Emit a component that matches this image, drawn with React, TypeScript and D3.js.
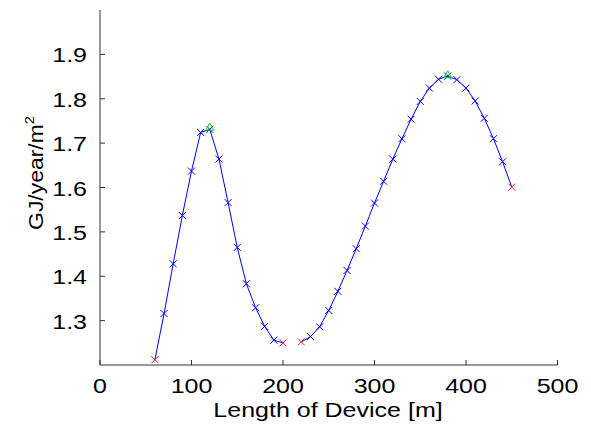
import React from "react";
import * as d3 from "d3";

const lengths1 = [60, 70, 80, 90, 100, 110, 120, 130, 140, 150, 160, 170, 180, 190, 200];
const values1 = [1.212, 1.316, 1.428, 1.537, 1.637, 1.724, 1.731, 1.664, 1.566, 1.465, 1.383, 1.329, 1.287, 1.256, 1.25];
const lengths2 = [220, 230, 240, 250, 260, 270, 280, 290, 300, 310, 320, 330, 340, 350, 360, 370, 380, 390, 400, 410, 420, 430, 440, 450];
const values2 = [1.252, 1.264, 1.286, 1.323, 1.366, 1.413, 1.462, 1.513, 1.565, 1.614, 1.664, 1.71, 1.754, 1.794, 1.824, 1.844, 1.851, 1.843, 1.824, 1.795, 1.756, 1.71, 1.658, 1.601];
const endpointX = [60, 200, 220, 450];
const endpointY = [1.212, 1.25, 1.252, 1.601];
const peakX = [120, 380];
const peakY = [1.735, 1.853];
const xTicks = [0, 100, 200, 300, 400, 500];
const yTicks = [1.3, 1.4, 1.5, 1.6, 1.7, 1.8, 1.9];

export default function App() {
  const W = 591, H = 426;
  const x = d3.scaleLinear().domain([0, 500]).range([100, 557.5]);
  const y = d3.scaleLinear().domain([1.2, 2.0]).range([365, 10]);
  const line = d3.line<[number, number]>().x(d => x(d[0])).y(d => y(d[1]));
  const seg1 = lengths1.map((l, i) => [l, values1[i]] as [number, number]);
  const seg2 = lengths2.map((l, i) => [l, values2[i]] as [number, number]);
  const all = [...seg1, ...seg2];
  const font = "'Liberation Sans', Arial, Helvetica, sans-serif";
  const fs = 20.5;
  const sx = 1.22;
  const xm = (cx: number, cy: number, s: number, color: string, key: string) => (
    <path key={key} d={`M${cx - s},${cy - s}L${cx + s},${cy + s}M${cx - s},${cy + s}L${cx + s},${cy - s}`} stroke={color} strokeWidth={1} fill="none" />
  );
  return (
    <svg width={W} height={H} style={{ position: "absolute", left: 0, top: 0, background: "#fff" }}>
      <rect width={W} height={H} fill="#fff" />
      <line x1={x(0)} x2={x(0)} y1={y(2.0)} y2={y(1.2)} stroke="#333" strokeWidth={1} />
      <line x1={x(0)} x2={x(500)} y1={y(1.2)} y2={y(1.2)} stroke="#333" strokeWidth={1} />
      {xTicks.map(t => (
        <g key={"xt" + t}>
          <line x1={x(t)} x2={x(t)} y1={y(1.2)} y2={y(1.2) - 5} stroke="#333" />
          <text transform={`translate(${x(t)},393) scale(${sx},1)`} fontFamily={font} fontSize={fs} textAnchor="middle" fill="#000">{t}</text>
        </g>
      ))}
      {yTicks.map(t => (
        <g key={"yt" + t}>
          <line x1={x(0)} x2={x(0) + 5} y1={y(t)} y2={y(t)} stroke="#333" />
          <text transform={`translate(87,${y(t) + 8}) scale(${sx},1)`} fontFamily={font} fontSize={fs} textAnchor="end" fill="#000">{t.toFixed(1)}</text>
        </g>
      ))}
      <text transform={`translate(328,417) scale(${sx},1)`} fontFamily={font} fontSize={fs} textAnchor="middle" fill="#000">Length of Device [m]</text>
      <text transform={`translate(43,173) rotate(-90) scale(1.12,1)`} fontFamily={font} fontSize={fs} textAnchor="middle" fill="#000">
        GJ/year/m<tspan fontSize={13} dy={-9}>2</tspan>
      </text>
      <path d={line(seg1) || ""} fill="none" stroke="#0000ff" strokeWidth={1} />
      <path d={line(seg2) || ""} fill="none" stroke="#0000ff" strokeWidth={1} />
      {all.filter(d => !endpointX.includes(d[0])).map((d, i) => xm(x(d[0]), y(d[1]), 3.5, "#0000ff", "b" + i))}
      {endpointX.map((l, i) => xm(x(l), y(endpointY[i]), 3.5, "#e0103c", "r" + i))}
      {peakX.map((l, i) => {
        const cx = x(l), cy = y(peakY[i]);
        return <path key={"g" + i} d={`M${cx},${cy - 4.5}L${cx + 4},${cy + 2.5}L${cx - 4},${cy + 2.5}Z`} fill="none" stroke="#00e000" strokeWidth={1} />;
      })}
    </svg>
  );
}
